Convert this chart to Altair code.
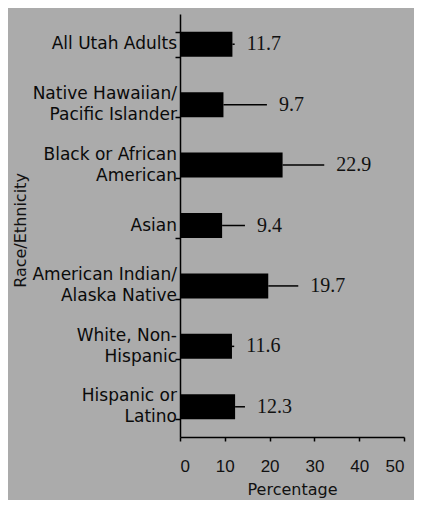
import altair as alt
import pandas as pd

categories = [
    "All Utah Adults",
    "Native Hawaiian/|Pacific Islander",
    "Black or African|American",
    "Asian",
    "American Indian/|Alaska Native",
    "White, Non-|Hispanic",
    "Hispanic or|Latino",
]
values = [11.7, 9.7, 22.9, 9.4, 19.7, 11.6, 12.3]
upper_ci = [12.2, 19.4, 32.2, 14.5, 26.4, 12.1, 14.5]
x_ticks = [0, 10, 20, 30, 40, 50]

df = pd.DataFrame({"cat": categories, "value": values, "upper": upper_ci})
df["label"] = df["value"].map(lambda v: f"{v:.1f}")
df["multi"] = df["cat"].str.contains("|", regex=False)

y_enc = alt.Y(
    "cat:N",
    sort=categories,
    scale=alt.Scale(paddingInner=0.58, paddingOuter=0.29),
    axis=alt.Axis(
        title="Race/Ethnicity",
        titleFont="DejaVu Sans",
        titleFontSize=16,
        titleFontWeight="normal",
        titleColor="#111111",
        titleAngle=270,
        titleX=-160,
        titleY=216,
        titleBaseline="middle",
        labels=False,
        tickBand="extent",
        tickSize=5,
        tickColor="black",
        tickWidth=1.5,
        domainColor="black",
        domainWidth=1.5,
    ),
)

x_scale = alt.Scale(domain=[0, 50], nice=False)

bars = alt.Chart(df).mark_bar(color="black", size=25).encode(
    x=alt.X(
        "value:Q",
        scale=x_scale,
        axis=alt.Axis(
            values=x_ticks,
            title="Percentage",
            titleFont="DejaVu Sans",
            titleFontSize=16,
            titleFontWeight="normal",
            titleColor="#111111",
            titleY=52,
            titleBaseline="middle",
            labelFont="Liberation Sans",
            labelFontSize=17,
            labelColor="#111111",
            labelPadding=25,
            labelBaseline="middle",
            tickSize=4,
            tickColor="black",
            tickWidth=1.5,
            domainColor="black",
            domainWidth=1.5,
            grid=False,
        ),
    ),
    y=y_enc,
)

label_style = dict(
    align="right", baseline="middle", lineBreak="|", lineHeight=21,
    font="DejaVu Sans", fontSize=17, color="#0a0a0a",
)

cat_single = alt.Chart(df).transform_filter("!datum.multi").mark_text(**label_style).encode(
    x=alt.value(-3),
    y=alt.Y("cat:N", sort=categories),
    text="cat:N",
)

cat_multi = alt.Chart(df).transform_filter("datum.multi").mark_text(dy=-10.5, **label_style).encode(
    x=alt.value(-3),
    y=alt.Y("cat:N", sort=categories),
    text="cat:N",
)

whiskers = alt.Chart(df).mark_rule(color="black", strokeWidth=1.5).encode(
    x=alt.X("value:Q", scale=x_scale),
    x2="upper:Q",
    y=alt.Y("cat:N", sort=categories),
)

labels = alt.Chart(df).mark_text(
    align="left", baseline="middle", dx=12, font="Liberation Serif", fontSize=20, color="#111111"
).encode(
    x=alt.X("upper:Q", scale=x_scale),
    y=alt.Y("cat:N", sort=categories),
    text="label:N",
)

chart = (
    alt.layer(bars, whiskers, labels, cat_single, cat_multi)
    .properties(
        width=224,
        height=423,
        background="#ababab",
        autosize=alt.AutoSizeParams(type="none"),
        padding={"left": 172, "top": 6, "right": 10, "bottom": 63},
    )
    .configure_view(stroke=None)
)

chart.save("out.html", embed_options={"renderer": "svg", "actions": False})
